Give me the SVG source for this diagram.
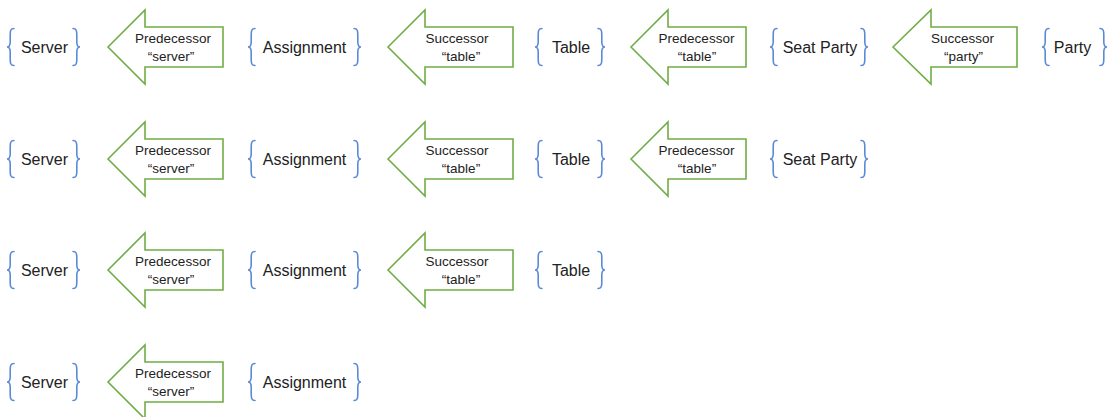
<svg xmlns="http://www.w3.org/2000/svg" xmlns:xlink="http://www.w3.org/1999/xlink" width="1112" height="417" viewBox="0 0 1112 417">
<style>
.br{fill:none;stroke:#5b8bd6;stroke-width:1.6;stroke-linecap:round}
.ar{fill:#fff;stroke:#70ad47;stroke-width:1.6;stroke-linejoin:miter}
.lb{font-family:"Liberation Sans",Arial,sans-serif;font-size:16px;fill:#222;text-anchor:middle}
.at{font-family:"Liberation Sans",Arial,sans-serif;font-size:13.5px;fill:#222;text-anchor:middle}
</style>
<defs>
<path id="lbr" class="br" d="M7,-18.5 C3.5,-18.5 3.2,-16 3.2,-12 L3.2,-5 C3.2,-1.5 2,0 0,0 C2,0 3.2,1.5 3.2,5 L3.2,12 C3.2,16 3.5,18.5 7,18.5"/>
<path id="rbr" class="br" d="M-7,-18.5 C-3.5,-18.5 -3.2,-16 -3.2,-12 L-3.2,-5 C-3.2,-1.5 -2,0 0,0 C-2,0 -3.2,1.5 -3.2,5 L-3.2,12 C-3.2,16 -3.5,18.5 -7,18.5"/>
<g id="server">
<use xlink:href="#lbr" x="7"/><use xlink:href="#rbr" x="80"/>
<text class="lb" x="44.5" y="6">Server</text>
</g>
<g id="predServer">
<polygon class="ar" points="108,0 145,-37 145,-20 223,-20 223,20 145,20 145,37"/>
<text class="at" x="173" y="-4">Predecessor</text>
<text class="at" x="171" y="14">“server”</text>
</g>
<g id="assignment">
<use xlink:href="#lbr" x="248"/><use xlink:href="#rbr" x="361"/>
<text class="lb" x="304.5" y="6">Assignment</text>
</g>
<g id="succTable">
<polygon class="ar" points="388,0 425,-37 425,-20 513,-20 513,20 425,20 425,37"/>
<text class="at" x="457" y="-4">Successor</text>
<text class="at" x="461" y="14">“table”</text>
</g>
<g id="table">
<use xlink:href="#lbr" x="535"/><use xlink:href="#rbr" x="605"/>
<text class="lb" x="571" y="6">Table</text>
</g>
<g id="predTable">
<polygon class="ar" points="631,0 668,-37 668,-20 746,-20 746,20 668,20 668,37"/>
<text class="at" x="696.5" y="-4">Predecessor</text>
<text class="at" x="697" y="14">“table”</text>
</g>
<g id="seatParty">
<use xlink:href="#lbr" x="770"/><use xlink:href="#rbr" x="868"/>
<text class="lb" x="820" y="6">Seat Party</text>
</g>
<g id="succParty">
<polygon class="ar" points="893,0 931,-37 931,-20 1017,-20 1017,20 931,20 931,37"/>
<text class="at" x="962.5" y="-4">Successor</text>
<text class="at" x="963.5" y="14">“party”</text>
</g>
<g id="party">
<use xlink:href="#lbr" x="1042"/><use xlink:href="#rbr" x="1107"/>
<text class="lb" x="1072.5" y="6">Party</text>
</g>
</defs>
<g id="connectors"/>
<g id="row1" transform="translate(0,47)">
<use id="r1-server" xlink:href="#server"/>
<use id="r1-predServer" xlink:href="#predServer"/>
<use id="r1-assignment" xlink:href="#assignment"/>
<use id="r1-succTable" xlink:href="#succTable"/>
<use id="r1-table" xlink:href="#table"/>
<use id="r1-predTable" xlink:href="#predTable"/>
<use id="r1-seatParty" xlink:href="#seatParty"/>
<use id="r1-succParty" xlink:href="#succParty"/>
<use id="r1-party" xlink:href="#party"/>
</g>
<g id="row2" transform="translate(0,159)">
<use id="r2-server" xlink:href="#server"/>
<use id="r2-predServer" xlink:href="#predServer"/>
<use id="r2-assignment" xlink:href="#assignment"/>
<use id="r2-succTable" xlink:href="#succTable"/>
<use id="r2-table" xlink:href="#table"/>
<use id="r2-predTable" xlink:href="#predTable"/>
<use id="r2-seatParty" xlink:href="#seatParty"/>
</g>
<g id="row3" transform="translate(0,270)">
<use id="r3-server" xlink:href="#server"/>
<use id="r3-predServer" xlink:href="#predServer"/>
<use id="r3-assignment" xlink:href="#assignment"/>
<use id="r3-succTable" xlink:href="#succTable"/>
<use id="r3-table" xlink:href="#table"/>
</g>
<g id="row4" transform="translate(0,382)">
<use id="r4-server" xlink:href="#server"/>
<use id="r4-predServer" xlink:href="#predServer"/>
<use id="r4-assignment" xlink:href="#assignment"/>
</g>
</svg>
